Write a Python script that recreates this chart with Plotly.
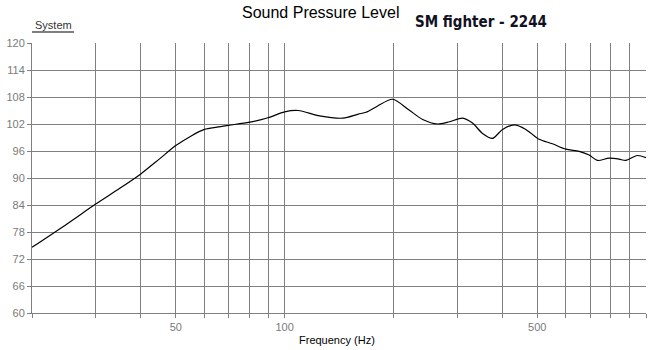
import plotly.graph_objects as go

# Frequency response (Hz, dB SPL)
freq = [20, 25, 30, 35, 40, 45, 50, 55, 60, 65, 70, 80, 90, 100, 109, 125, 145,
        160, 168, 180, 199, 221, 241, 265, 286, 311, 331, 353, 376, 401, 432,
        465, 506, 551, 600, 653, 696, 734, 790, 842, 879, 946, 1000]
spl = [74.6, 79.8, 84.2, 87.7, 90.9, 94.2, 97.2, 99.3, 100.8, 101.3, 101.7,
       102.4, 103.4, 104.7, 105.0, 103.8, 103.3, 104.2, 104.6, 105.9, 107.5,
       105.1, 103.0, 102.0, 102.5, 103.3, 102.2, 99.9, 98.8, 100.8, 101.8,
       100.8, 98.6, 97.6, 96.4, 95.9, 95.1, 93.9, 94.4, 94.2, 93.9, 95.0, 94.5]

x_grid = [20, 30, 40, 50, 60, 70, 80, 90, 100, 200, 300, 400, 500,
          600, 700, 800, 900, 1000]
x_labels = {50: "50", 100: "100", 500: "500"}
y_ticks = list(range(60, 121, 6))

GRID = "#808080"
TICKFONT = dict(family="Liberation Sans, Arial", size=11, color="#7a7a7a")

fig = go.Figure()
fig.add_trace(go.Scatter(
    x=freq, y=spl, mode="lines",
    line=dict(color="black", width=1.2, shape="spline", smoothing=0.8),
    hoverinfo="skip", showlegend=False,
))

fig.update_layout(
    width=657, height=350,
    margin=dict(l=32, r=11, t=43, b=37, autoexpand=False),
    paper_bgcolor="white", plot_bgcolor="white",
    xaxis=dict(
        type="log", range=[1.30103, 3.0], automargin=False,
        tickvals=x_grid, ticktext=[x_labels.get(v, "") for v in x_grid],
        showgrid=True, gridcolor=GRID, gridwidth=1,
        showline=True, linecolor=GRID, linewidth=1,
        ticks="outside", ticklen=4, tickcolor=GRID,
        tickfont=TICKFONT, zeroline=False,
    ),
    yaxis=dict(
        range=[60, 120], tickvals=y_ticks, automargin=False,
        showgrid=True, gridcolor=GRID, gridwidth=1,
        showline=True, linecolor=GRID, linewidth=1,
        ticks="outside", ticklen=4, tickcolor=GRID,
        tickfont=TICKFONT, zeroline=False,
    ),
    annotations=[
        dict(text="Sound Pressure Level", xref="paper", yref="paper",
             x=(320 - 32) / 614, y=1 + 30 / 270, xanchor="center", yanchor="middle",
             showarrow=False,
             font=dict(family="Liberation Sans, Arial", size=16, color="black")),
        dict(text="<b>SM fighter - 2244</b>", xref="paper", yref="paper",
             x=(481 - 32) / 614, y=1 + 21 / 270, xanchor="center", yanchor="middle",
             showarrow=False,
             font=dict(family="DejaVu Sans Condensed, Liberation Sans",
                       size=15, color="#111122")),
        dict(text="System", xref="paper", yref="paper",
             x=(53 - 32) / 614, y=1 + 18 / 270, xanchor="center", yanchor="middle",
             showarrow=False,
             font=dict(family="Liberation Sans, Arial", size=11, color="#333333")),
        dict(text="Frequency (Hz)", xref="paper", yref="paper",
             x=(337 - 32) / 614, y=-27 / 270, xanchor="center", yanchor="middle",
             showarrow=False,
             font=dict(family="Liberation Sans, Arial", size=11, color="black")),
    ],
    shapes=[
        dict(type="line", xref="paper", yref="paper",
             x0=0, x1=(74 - 32) / 614, y0=1 + 11 / 270, y1=1 + 11 / 270,
             line=dict(color="#555555", width=1.5)),
    ],
)

fig.write_html("out.html")
